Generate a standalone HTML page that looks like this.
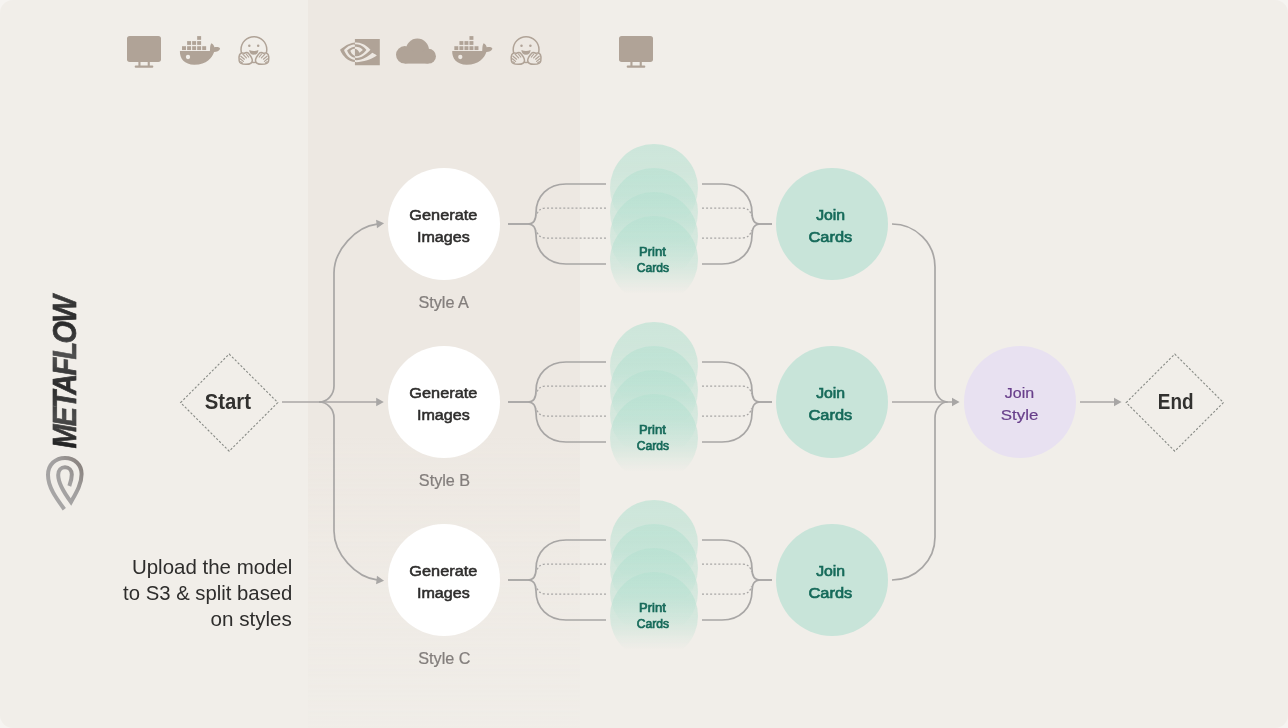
<!DOCTYPE html>
<html><head><meta charset="utf-8"><title>Metaflow</title>
<style>
html,body{margin:0;padding:0;}
body{width:1288px;height:728px;overflow:hidden;background:#f6f4f1;font-family:"Liberation Sans",sans-serif;}
#stage{position:absolute;left:0;top:0;width:1288px;height:728px;background:#f1eee9;border-radius:13px;overflow:hidden;}
</style></head><body>
<div id="stage">
<svg width="1288" height="728" viewBox="0 0 1288 728" style="position:absolute;left:0;top:0;will-change:transform">
<defs>
<linearGradient id="mid" x1="0" y1="0" x2="0" y2="1">
<stop offset="0" stop-color="#ede8e2" stop-opacity="1"/>
<stop offset="0.6" stop-color="#ede8e2" stop-opacity="1"/>
<stop offset="1" stop-color="#ede8e2" stop-opacity="0.08"/>
</linearGradient>
<linearGradient id="pc" x1="0" y1="0" x2="0" y2="1">
<stop offset="0" stop-color="#b4e0d0" stop-opacity="0.60"/>
<stop offset="0.3" stop-color="#b4e0d0" stop-opacity="0.55"/>
<stop offset="0.58" stop-color="#b4e0d0" stop-opacity="0.42"/>
<stop offset="0.78" stop-color="#b4e0d0" stop-opacity="0.14"/>
<stop offset="0.88" stop-color="#b4e0d0" stop-opacity="0"/>
</linearGradient>
<linearGradient id="mf" x1="0" y1="0" x2="1" y2="0">
<stop offset="0" stop-color="#1e1e1e"/>
<stop offset="0.2" stop-color="#4c4c4c"/>
<stop offset="0.4" stop-color="#2a2a2a"/>
<stop offset="0.6" stop-color="#505050"/>
<stop offset="0.8" stop-color="#2a2a2a"/>
<stop offset="1" stop-color="#3c3c3c"/>
</linearGradient>
<linearGradient id="mk" x1="0" y1="1" x2="1" y2="0">
<stop offset="0" stop-color="#aaa9a9"/>
<stop offset="0.6" stop-color="#a19f9f"/>
<stop offset="1" stop-color="#857d78"/>
</linearGradient>
</defs>
<rect x="308" y="0" width="272" height="728" fill="url(#mid)"/>

<g fill="none" stroke="#a8a6a5" stroke-width="1.7">
<path d="M282,402 H377"/>
<path d="M319,402 A15,16 0 0 0 334,386 V273 C334,250 356,226.6 377,224.2"/>
<path d="M319,402 A15,16 0 0 1 334,418 V531 C334,554 356,577.4 377,579.8"/>
<path d="M892,402 H953"/>
<path d="M892,224 A43,43 0 0 1 935,267 V386 A12.5,16 0 0 0 947.5,402"/>
<path d="M892,580 A43,43 0 0 0 935,537 V418 A12.5,16 0 0 1 947.5,402"/>
<path d="M1080,402 H1115"/>
</g>
<path d="M376.5,219.39999999999998 L384.1,223.7 L376.5,228.0 Z" fill="#a8a6a5" transform="rotate(-6,380.1,223.7)"/>
<path d="M376.2,397.7 L383.8,402 L376.2,406.3 Z" fill="#a8a6a5" transform="rotate(0,379.8,402)"/>
<path d="M376.5,576.0 L384.1,580.3 L376.5,584.5999999999999 Z" fill="#a8a6a5" transform="rotate(6,380.1,580.3)"/>
<path d="M952.0,397.7 L959.6,402 L952.0,406.3 Z" fill="#a8a6a5" transform="rotate(0,955.6,402)"/>
<path d="M1114.0,397.7 L1121.6,402 L1114.0,406.3 Z" fill="#a8a6a5" transform="rotate(0,1117.6,402)"/>
<circle cx="444" cy="224" r="56" fill="#ffffff"/>
<g fill="none" stroke="#a8a6a5" stroke-width="1.7">
<path d="M508,224 H528 C533,224 536,220 536,213 C536,196 548,184 566,184 H606"/>
<path d="M702,184 H722 C740,184 752,196 752,213 C752,220 755,224 760,224 H772"/>
<path d="M508,224 H528 C533,224 536,228 536,235 C536,252 548,264 566,264 H606"/>
<path d="M702,264 H722 C740,264 752,252 752,235 C752,228 755,224 760,224 H772"/>
</g>
<g fill="none" stroke="#a8a6a5" stroke-width="1.25" stroke-dasharray="2 2.07">
<path d="M606,208 H546 Q538,208 536.5,216"/>
<path d="M702,208 H742 Q750,208 751.5,216"/>
<path d="M606,238 H546 Q538,238 536.5,230"/>
<path d="M702,238 H742 Q750,238 751.5,230"/>
</g>
<circle cx="654" cy="188" r="44" fill="url(#pc)"/>
<circle cx="654" cy="212" r="44" fill="url(#pc)"/>
<circle cx="654" cy="236" r="44" fill="url(#pc)"/>
<circle cx="654" cy="260" r="44" fill="url(#pc)"/>
<circle cx="832" cy="224" r="56" fill="#c8e4d9"/>
<circle cx="444" cy="402" r="56" fill="#ffffff"/>
<g fill="none" stroke="#a8a6a5" stroke-width="1.7">
<path d="M508,402 H528 C533,402 536,398 536,391 C536,374 548,362 566,362 H606"/>
<path d="M702,362 H722 C740,362 752,374 752,391 C752,398 755,402 760,402 H772"/>
<path d="M508,402 H528 C533,402 536,406 536,413 C536,430 548,442 566,442 H606"/>
<path d="M702,442 H722 C740,442 752,430 752,413 C752,406 755,402 760,402 H772"/>
</g>
<g fill="none" stroke="#a8a6a5" stroke-width="1.25" stroke-dasharray="2 2.07">
<path d="M606,386 H546 Q538,386 536.5,394"/>
<path d="M702,386 H742 Q750,386 751.5,394"/>
<path d="M606,416 H546 Q538,416 536.5,408"/>
<path d="M702,416 H742 Q750,416 751.5,408"/>
</g>
<circle cx="654" cy="366" r="44" fill="url(#pc)"/>
<circle cx="654" cy="390" r="44" fill="url(#pc)"/>
<circle cx="654" cy="414" r="44" fill="url(#pc)"/>
<circle cx="654" cy="438" r="44" fill="url(#pc)"/>
<circle cx="832" cy="402" r="56" fill="#c8e4d9"/>
<circle cx="444" cy="580" r="56" fill="#ffffff"/>
<g fill="none" stroke="#a8a6a5" stroke-width="1.7">
<path d="M508,580 H528 C533,580 536,576 536,569 C536,552 548,540 566,540 H606"/>
<path d="M702,540 H722 C740,540 752,552 752,569 C752,576 755,580 760,580 H772"/>
<path d="M508,580 H528 C533,580 536,584 536,591 C536,608 548,620 566,620 H606"/>
<path d="M702,620 H722 C740,620 752,608 752,591 C752,584 755,580 760,580 H772"/>
</g>
<g fill="none" stroke="#a8a6a5" stroke-width="1.25" stroke-dasharray="2 2.07">
<path d="M606,564 H546 Q538,564 536.5,572"/>
<path d="M702,564 H742 Q750,564 751.5,572"/>
<path d="M606,594 H546 Q538,594 536.5,586"/>
<path d="M702,594 H742 Q750,594 751.5,586"/>
</g>
<circle cx="654" cy="544" r="44" fill="url(#pc)"/>
<circle cx="654" cy="568" r="44" fill="url(#pc)"/>
<circle cx="654" cy="592" r="44" fill="url(#pc)"/>
<circle cx="654" cy="616" r="44" fill="url(#pc)"/>
<circle cx="832" cy="580" r="56" fill="#c8e4d9"/>
<circle cx="1020" cy="402" r="56" fill="#e8e1f1"/>
<path d="M180.6,402.6 L229.2,354 L277.8,402.6 L229.2,451.2 Z" fill="none" stroke="#878a85" stroke-width="1.1" stroke-dasharray="2.2 1.84"/>
<path d="M1126.2,402.6 L1174.8,354 L1223.3999999999999,402.6 L1174.8,451.2 Z" fill="none" stroke="#878a85" stroke-width="1.1" stroke-dasharray="2.2 1.84"/>
<text transform="translate(204.64,408.80) scale(0.9299,1)" font-family="Liberation Sans, sans-serif" font-size="21.9" font-weight="bold" fill="#32312f" >Start</text>
<text transform="translate(1157.81,408.80) scale(0.8752,1)" font-family="Liberation Sans, sans-serif" font-size="21.6" font-weight="bold" fill="#32312f" >End</text>
<text transform="translate(409.31,219.70) scale(1.0608,1)" font-family="Liberation Sans, sans-serif" font-size="15.4" font-weight="normal" fill="#2e2d2c" stroke="#2e2d2c" stroke-width="0.55">Generate</text>
<text transform="translate(416.92,241.70) scale(1.0467,1)" font-family="Liberation Sans, sans-serif" font-size="15.4" font-weight="normal" fill="#2e2d2c" stroke="#2e2d2c" stroke-width="0.55">Images</text>
<text transform="translate(418.45,307.80) scale(0.9992,1)" font-family="Liberation Sans, sans-serif" font-size="16.2" font-weight="normal" fill="#837e7c" stroke="#837e7c" stroke-width="0.25">Style A</text>
<text transform="translate(639.09,255.70) scale(1.0857,1)" font-family="Liberation Sans, sans-serif" font-size="12.0" font-weight="normal" fill="#166a5a" stroke="#166a5a" stroke-width="0.65">Print</text>
<text transform="translate(636.75,271.70) scale(1.0123,1)" font-family="Liberation Sans, sans-serif" font-size="12.0" font-weight="normal" fill="#166a5a" stroke="#166a5a" stroke-width="0.65">Cards</text>
<text transform="translate(816.13,220.30) scale(1.0404,1)" font-family="Liberation Sans, sans-serif" font-size="15.2" font-weight="normal" fill="#166a5a" stroke="#166a5a" stroke-width="0.65">Join</text>
<text transform="translate(808.47,241.75) scale(1.0805,1)" font-family="Liberation Sans, sans-serif" font-size="15.2" font-weight="normal" fill="#166a5a" stroke="#166a5a" stroke-width="0.65">Cards</text>
<text transform="translate(409.31,397.70) scale(1.0608,1)" font-family="Liberation Sans, sans-serif" font-size="15.4" font-weight="normal" fill="#2e2d2c" stroke="#2e2d2c" stroke-width="0.55">Generate</text>
<text transform="translate(416.92,419.70) scale(1.0467,1)" font-family="Liberation Sans, sans-serif" font-size="15.4" font-weight="normal" fill="#2e2d2c" stroke="#2e2d2c" stroke-width="0.55">Images</text>
<text transform="translate(418.85,485.80) scale(0.9992,1)" font-family="Liberation Sans, sans-serif" font-size="16.2" font-weight="normal" fill="#837e7c" stroke="#837e7c" stroke-width="0.25">Style B</text>
<text transform="translate(639.09,433.70) scale(1.0857,1)" font-family="Liberation Sans, sans-serif" font-size="12.0" font-weight="normal" fill="#166a5a" stroke="#166a5a" stroke-width="0.65">Print</text>
<text transform="translate(636.75,449.70) scale(1.0123,1)" font-family="Liberation Sans, sans-serif" font-size="12.0" font-weight="normal" fill="#166a5a" stroke="#166a5a" stroke-width="0.65">Cards</text>
<text transform="translate(816.13,398.30) scale(1.0404,1)" font-family="Liberation Sans, sans-serif" font-size="15.2" font-weight="normal" fill="#166a5a" stroke="#166a5a" stroke-width="0.65">Join</text>
<text transform="translate(808.47,419.75) scale(1.0805,1)" font-family="Liberation Sans, sans-serif" font-size="15.2" font-weight="normal" fill="#166a5a" stroke="#166a5a" stroke-width="0.65">Cards</text>
<text transform="translate(409.31,575.70) scale(1.0608,1)" font-family="Liberation Sans, sans-serif" font-size="15.4" font-weight="normal" fill="#2e2d2c" stroke="#2e2d2c" stroke-width="0.55">Generate</text>
<text transform="translate(416.92,597.70) scale(1.0467,1)" font-family="Liberation Sans, sans-serif" font-size="15.4" font-weight="normal" fill="#2e2d2c" stroke="#2e2d2c" stroke-width="0.55">Images</text>
<text transform="translate(418.29,663.80) scale(0.9992,1)" font-family="Liberation Sans, sans-serif" font-size="16.2" font-weight="normal" fill="#837e7c" stroke="#837e7c" stroke-width="0.25">Style C</text>
<text transform="translate(639.09,611.70) scale(1.0857,1)" font-family="Liberation Sans, sans-serif" font-size="12.0" font-weight="normal" fill="#166a5a" stroke="#166a5a" stroke-width="0.65">Print</text>
<text transform="translate(636.75,627.70) scale(1.0123,1)" font-family="Liberation Sans, sans-serif" font-size="12.0" font-weight="normal" fill="#166a5a" stroke="#166a5a" stroke-width="0.65">Cards</text>
<text transform="translate(816.13,576.30) scale(1.0404,1)" font-family="Liberation Sans, sans-serif" font-size="15.2" font-weight="normal" fill="#166a5a" stroke="#166a5a" stroke-width="0.65">Join</text>
<text transform="translate(808.47,597.75) scale(1.0805,1)" font-family="Liberation Sans, sans-serif" font-size="15.2" font-weight="normal" fill="#166a5a" stroke="#166a5a" stroke-width="0.65">Cards</text>
<text transform="translate(1004.87,398.10) scale(1.0315,1)" font-family="Liberation Sans, sans-serif" font-size="15.5" font-weight="normal" fill="#683f8b" stroke="#683f8b" stroke-width="0.22">Join</text>
<text transform="translate(1000.79,419.90) scale(1.0905,1)" font-family="Liberation Sans, sans-serif" font-size="15.5" font-weight="normal" fill="#683f8b" stroke="#683f8b" stroke-width="0.22">Style</text>
<text transform="translate(131.94,573.50) scale(1.0094,1)" font-family="Liberation Sans, sans-serif" font-size="20.3" font-weight="normal" fill="#2e2d2c" >Upload the model</text>
<text transform="translate(123.11,599.60) scale(1.0003,1)" font-family="Liberation Sans, sans-serif" font-size="20.3" font-weight="normal" fill="#2e2d2c" >to S3 &amp; split based</text>
<text transform="translate(210.53,626.10) scale(1.0158,1)" font-family="Liberation Sans, sans-serif" font-size="20.3" font-weight="normal" fill="#2e2d2c" >on styles</text>
<text transform="translate(76.2,448.6) rotate(-90) scale(0.863,1)" font-family="Liberation Sans, sans-serif" font-size="33.5" font-weight="bold" font-style="italic" fill="url(#mf)" stroke="url(#mf)" stroke-width="0.7" letter-spacing="-1.9">METAFLOW</text>
<path d="M64.3,509.2 C56,498 48,487 48,475 C48,464.5 55.5,458 65,458 C74.5,458 81.6,464.5 81.6,474 C81.6,484 76,493 71,502 C63.5,492 58.2,483 58.2,475 C58.2,470 61,467.3 65,467.3 C69,467.3 71.8,470.3 71.8,474.5 C71.8,479 70.5,482.5 69.3,486" fill="none" stroke="url(#mk)" stroke-width="4" stroke-linejoin="miter"/>
<g fill="#b0a397" transform="translate(0,0)">
<rect x="127" y="35.9" width="34" height="26.1" rx="2.7"/>
<rect x="138.4" y="61.5" width="2.1" height="4.6"/>
<rect x="147.7" y="61.5" width="2.1" height="4.6"/>
<rect x="134.7" y="65.6" width="18.6" height="2.1" rx="1"/>
</g>
<g fill="#b0a397" transform="translate(0,0)">
<rect x="182.03" y="46.2" width="3.95" height="3.85"/>
<rect x="187.12" y="46.2" width="3.95" height="3.85"/>
<rect x="192.16" y="46.2" width="3.95" height="3.85"/>
<rect x="197.16" y="46.2" width="3.95" height="3.85"/>
<rect x="202.2" y="46.2" width="3.95" height="3.85"/>
<rect x="187.12" y="41.1" width="3.95" height="3.8"/>
<rect x="192.16" y="41.1" width="3.95" height="3.8"/>
<rect x="197.16" y="41.1" width="3.95" height="3.8"/>
<rect x="197.16" y="36.1" width="3.95" height="3.75"/>
<path d="M179.9,51 H209.9 C210.2,48.8 209.7,45.8 211.3,43.2 C213.2,44.2 214.2,45.7 214.4,47.3 C215.8,47 217.8,46.9 219,47.4 C219.8,47.8 220.2,48.4 220,49 C219.2,50.9 216.8,52 214.1,52 C212,57.8 207,64.7 194.3,64.7 C184.5,64.7 179.6,58.5 179.9,51 Z"/>
<circle cx="188" cy="57" r="2.15" fill="#f1eee9"/>
</g>
<g transform="translate(0,0)" fill="none" stroke="#b0a397" stroke-width="1.5" stroke-linecap="round" stroke-linejoin="round">
<circle cx="253.9" cy="49.6" r="12.9"/>
<circle cx="249.3" cy="45.7" r="1.25" fill="#b0a397" stroke="none"/>
<circle cx="258.2" cy="45.7" r="1.25" fill="#b0a397" stroke="none"/>
<path d="M249.2,49.9 Q253.8,52.2 258.4,49.9 Q258.2,54.7 253.8,54.7 Q249.4,54.7 249.2,49.9 Z" fill="#b0a397" stroke="none"/>
<path d="M239.6,54.6 C240.6,52.8 243,52.6 244.4,53.4 C245.5,52.3 247.6,52.2 248.6,53.4 C250.4,55.4 252.4,58 252.3,60.6 C252.2,63.4 249,64.3 246,64.3 C242.5,64.3 239.6,63.6 239.2,61 C238.8,58.6 238.8,56.2 239.6,54.6 Z" fill="#f1eee9"/>
<path d="M268.2,54.6 C267.2,52.8 264.8,52.6 263.4,53.4 C262.3,52.3 260.2,52.2 259.2,53.4 C257.4,55.4 255.4,58 255.5,60.6 C255.6,63.4 258.8,64.3 261.8,64.3 C265.3,64.3 268.2,63.6 268.6,61 C269,58.6 269,56.2 268.2,54.6 Z" fill="#f1eee9"/>
<g stroke-width="1.2">
<path d="M240.8,56.2 L244.4,59.2 M240.2,58.8 L243.4,61.4 M240.6,61.6 L242.4,63 M242.8,54.2 L246.4,57.8 M246.2,54 L248.6,57"/>
<path d="M267,56.2 L263.4,59.2 M267.6,58.8 L264.4,61.4 M267.2,61.6 L265.4,63 M265,54.2 L261.4,57.8 M261.6,54 L259.2,57"/>
</g>
</g>
<path transform="translate(340.1,32.179) scale(1.6542)" fill="#b0a397" d="M8.948 8.798v-1.43a6.7 6.7 0 0 1 .424-.018c3.922-.124 6.493 3.374 6.493 3.374s-2.774 3.851-5.75 3.851c-.398 0-.787-.062-1.158-.185v-4.346c1.528.185 1.837.857 2.747 2.385l2.04-1.714s-1.492-1.952-4-1.952a6.016 6.016 0 0 0-.796.035m0-4.735v2.138l.424-.027c5.45-.185 9.01 4.47 9.01 4.47s-4.08 4.964-8.33 4.964c-.37 0-.733-.035-1.095-.097v1.325c.3.035.61.062.91.062 3.957 0 6.82-2.023 9.593-4.408.459.371 2.34 1.263 2.73 1.652-2.633 2.208-8.772 3.984-12.253 3.984-.335 0-.653-.018-.971-.053v1.864H24V4.063zm0 10.326v1.131c-3.657-.654-4.673-4.46-4.673-4.46s1.758-1.944 4.673-2.262v1.237H8.94c-1.528-.186-2.73 1.245-2.73 1.245s.68 2.412 2.739 3.11M2.456 10.9s2.164-3.197 6.5-3.533V6.201C4.153 6.590 0 10.653 0 10.653s2.35 6.802 8.948 7.42v-1.237c-4.84-.6-6.492-5.936-6.492-5.936z"/>
<g fill="#b0a397">
<circle cx="417.4" cy="50.1" r="11.55"/>
<circle cx="404.75" cy="54.85" r="8.75"/>
<circle cx="428.5" cy="56.15" r="7.45"/>
<rect x="404.75" y="52" width="23.75" height="11.6"/>
</g>
<g fill="#b0a397" transform="translate(272.3,0)">
<rect x="182.03" y="46.2" width="3.95" height="3.85"/>
<rect x="187.12" y="46.2" width="3.95" height="3.85"/>
<rect x="192.16" y="46.2" width="3.95" height="3.85"/>
<rect x="197.16" y="46.2" width="3.95" height="3.85"/>
<rect x="202.2" y="46.2" width="3.95" height="3.85"/>
<rect x="187.12" y="41.1" width="3.95" height="3.8"/>
<rect x="192.16" y="41.1" width="3.95" height="3.8"/>
<rect x="197.16" y="41.1" width="3.95" height="3.8"/>
<rect x="197.16" y="36.1" width="3.95" height="3.75"/>
<path d="M179.9,51 H209.9 C210.2,48.8 209.7,45.8 211.3,43.2 C213.2,44.2 214.2,45.7 214.4,47.3 C215.8,47 217.8,46.9 219,47.4 C219.8,47.8 220.2,48.4 220,49 C219.2,50.9 216.8,52 214.1,52 C212,57.8 207,64.7 194.3,64.7 C184.5,64.7 179.6,58.5 179.9,51 Z"/>
<circle cx="188" cy="57" r="2.15" fill="#ede8e2"/>
</g>
<g transform="translate(272.2,0)" fill="none" stroke="#b0a397" stroke-width="1.5" stroke-linecap="round" stroke-linejoin="round">
<circle cx="253.9" cy="49.6" r="12.9"/>
<circle cx="249.3" cy="45.7" r="1.25" fill="#b0a397" stroke="none"/>
<circle cx="258.2" cy="45.7" r="1.25" fill="#b0a397" stroke="none"/>
<path d="M249.2,49.9 Q253.8,52.2 258.4,49.9 Q258.2,54.7 253.8,54.7 Q249.4,54.7 249.2,49.9 Z" fill="#b0a397" stroke="none"/>
<path d="M239.6,54.6 C240.6,52.8 243,52.6 244.4,53.4 C245.5,52.3 247.6,52.2 248.6,53.4 C250.4,55.4 252.4,58 252.3,60.6 C252.2,63.4 249,64.3 246,64.3 C242.5,64.3 239.6,63.6 239.2,61 C238.8,58.6 238.8,56.2 239.6,54.6 Z" fill="#ede8e2"/>
<path d="M268.2,54.6 C267.2,52.8 264.8,52.6 263.4,53.4 C262.3,52.3 260.2,52.2 259.2,53.4 C257.4,55.4 255.4,58 255.5,60.6 C255.6,63.4 258.8,64.3 261.8,64.3 C265.3,64.3 268.2,63.6 268.6,61 C269,58.6 269,56.2 268.2,54.6 Z" fill="#ede8e2"/>
<g stroke-width="1.2">
<path d="M240.8,56.2 L244.4,59.2 M240.2,58.8 L243.4,61.4 M240.6,61.6 L242.4,63 M242.8,54.2 L246.4,57.8 M246.2,54 L248.6,57"/>
<path d="M267,56.2 L263.4,59.2 M267.6,58.8 L264.4,61.4 M267.2,61.6 L265.4,63 M265,54.2 L261.4,57.8 M261.6,54 L259.2,57"/>
</g>
</g>
<g fill="#b0a397" transform="translate(492,0)">
<rect x="127" y="35.9" width="34" height="26.1" rx="2.7"/>
<rect x="138.4" y="61.5" width="2.1" height="4.6"/>
<rect x="147.7" y="61.5" width="2.1" height="4.6"/>
<rect x="134.7" y="65.6" width="18.6" height="2.1" rx="1"/>
</g>
</svg>
</div>
</body></html>
